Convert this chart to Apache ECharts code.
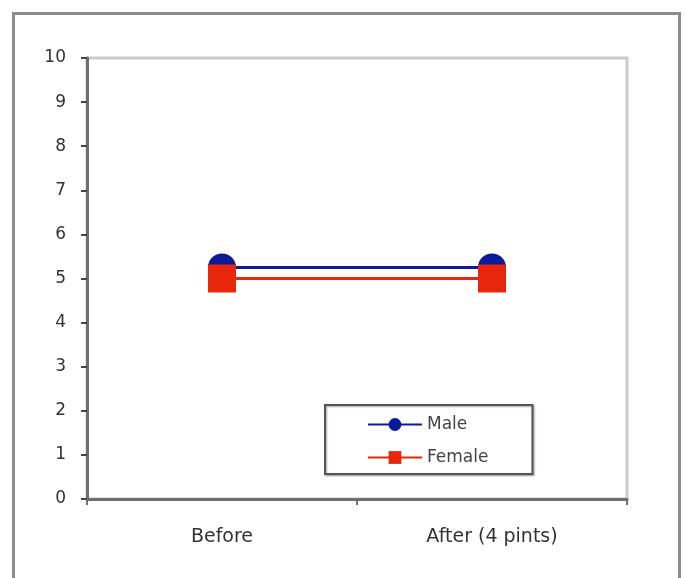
<!DOCTYPE html>
<html>
<head>
<meta charset="utf-8">
<script src="https://cdn.jsdelivr.net/npm/echarts@6/dist/echarts.min.js"></script>
<style>html,body{margin:0;padding:0;background:#fff;}#c{width:688px;height:578px;}</style>
</head>
<body>
<div id="c"></div>
<script>
var categories = ['Before', 'After (4 pints)'];
var maleValues = [5.25, 5.25];
var femaleValues = [5.0, 5.0];
var seriesNames = ['Male', 'Female'];

var FONT = 'DejaVu Sans';
var chart = echarts.init(document.getElementById('c'));
chart.setOption({
  animation: false,
  backgroundColor: '#fff',
  textStyle: { fontFamily: FONT },
  graphic: [{
    type: 'rect', left: 11, top: 11,
    shape: { width: 666, height: 572 },
    style: { fill: 'none', stroke: '#8c8c8c', lineWidth: 3 }, z: -1
  }],
  grid: {
    left: 87, top: 58, right: 61, bottom: 79,
    show: true, borderColor: '#cccccc', borderWidth: 3, backgroundColor: 'transparent'
  },
  legend: {
    orient: 'vertical',
    left: 325, top: 405,
    padding: [11, 44, 8, 42],
    itemGap: 16,
    itemWidth: 54, itemHeight: 16,
    borderColor: '#555', borderWidth: 2, borderRadius: 0,
    backgroundColor: '#fff',
    shadowColor: 'rgba(0,0,0,0.35)', shadowBlur: 2, shadowOffsetX: 1, shadowOffsetY: 1,
    textStyle: { fontSize: 17, color: '#444', fontFamily: FONT },
    data: seriesNames
  },
  xAxis: {
    type: 'category',
    data: categories,
    boundaryGap: true,
    axisLine: { lineStyle: { color: '#6e6e6e', width: 3 } },
    axisTick: { show: true, length: 6, lineStyle: { color: '#6e6e6e', width: 2 } },
    axisLabel: { fontSize: 19, color: '#333', margin: 29, fontFamily: FONT },
    splitLine: { show: false }
  },
  yAxis: {
    type: 'value',
    min: 0, max: 10, interval: 1,
    axisLine: { show: true, lineStyle: { color: '#6e6e6e', width: 3 } },
    axisTick: { show: true, length: 6, lineStyle: { color: '#444', width: 2 } },
    axisLabel: { fontSize: 17, color: '#333', margin: 21, fontFamily: FONT },
    splitLine: { show: false }
  },
  series: [{
    name: seriesNames[0], type: 'line', data: maleValues,
    symbol: 'circle', symbolSize: 28,
    lineStyle: { color: '#0a1a9c', width: 3 },
    itemStyle: { color: '#0a1a9c' },
    z: 2
  }, {
    name: seriesNames[1], type: 'line', data: femaleValues,
    symbol: 'rect', symbolSize: [28, 28],
    lineStyle: { color: '#e8260c', width: 3 },
    itemStyle: { color: '#e8260c' },
    z: 3
  }]
});
</script>
</body>
</html>
